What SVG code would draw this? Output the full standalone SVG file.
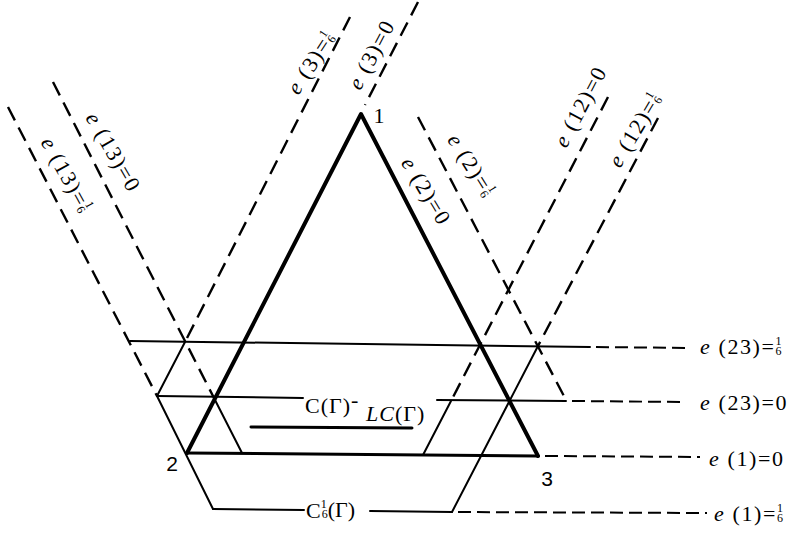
<svg xmlns="http://www.w3.org/2000/svg" width="796" height="533" viewBox="0 0 796 533">
<style>
.s{stroke:#000;stroke-width:2;fill:none;stroke-linecap:round}
.t{stroke:#000;stroke-width:4;fill:none;stroke-linecap:round;stroke-linejoin:round}
.m{stroke:#000;stroke-width:3;fill:none;stroke-linecap:round}
.d{stroke:#000;stroke-width:2.4;fill:none;stroke-dasharray:15 8}
.hd{stroke:#000;stroke-width:2;fill:none;stroke-dasharray:13 6}
text{font-family:"Liberation Serif","Times New Roman",serif;font-size:22px;fill:#000}
.lbl{letter-spacing:1.6px}
.it{font-style:italic}
.fr{font-size:12px;letter-spacing:0}
.v{font-family:"Liberation Sans",Arial,sans-serif;font-size:21px}
</style>
<rect width="796" height="533" fill="#fff"/>
<g id="connectors">
  <!-- triangle -->
  <polyline class="t" points="187,453 361,114 538,456"/>
  <line class="m" x1="187" y1="453" x2="538" y2="456"/>
  <!-- horizontal solid lines -->
  <line class="s" x1="130" y1="341" x2="590" y2="347"/>
  <line class="s" x1="157" y1="396" x2="303" y2="398"/>
  <line class="s" x1="437" y1="400" x2="566" y2="401"/>
  <line class="s" x1="213" y1="509" x2="304" y2="510"/>
  <line class="s" x1="370" y1="511" x2="452" y2="512"/>
  <line class="m" x1="251" y1="427" x2="412" y2="428"/>
  <!-- slanted solid lines -->
  <line class="s" x1="157" y1="396" x2="213" y2="509"/>
  <line class="s" x1="185" y1="342" x2="157" y2="396"/>
  <line class="s" x1="214" y1="398" x2="242" y2="453"/>
  <line class="s" x1="451" y1="401" x2="423" y2="455"/>
  <line class="s" x1="538" y1="346" x2="452" y2="512"/>
  <!-- slanted dashed lines -->
  <line class="d" x1="8" y1="107" x2="157" y2="396"/>
  <line class="d" x1="53" y1="82" x2="214" y2="398"/>
  <line class="d" x1="350" y1="17" x2="185" y2="342"/>
  <line class="d" x1="418" y1="2" x2="365" y2="105"/>
  <line class="d" x1="418" y1="117" x2="566" y2="400"/>
  <line class="d" x1="608" y1="97" x2="451" y2="401"/>
  <line class="d" x1="658" y1="118" x2="538" y2="346"/>
  <!-- horizontal dashed lines -->
  <line class="hd" x1="596" y1="347" x2="688" y2="348"/>
  <line class="hd" x1="572" y1="401" x2="684" y2="402"/>
  <line class="hd" x1="545" y1="456" x2="700" y2="457"/>
  <line class="hd" x1="458" y1="512" x2="707" y2="513"/>
</g>
<g id="vertex-1"><text x="379" y="123" text-anchor="middle">1</text></g>
<g id="vertex-2"><text class="v" x="172" y="471" text-anchor="middle">2</text></g>
<g id="vertex-3"><text class="v" x="547" y="486" text-anchor="middle">3</text></g>
<g id="region-labels">
  <text x="305" y="413" letter-spacing="1">C(Γ)</text>
  <text x="351" y="407" font-size="18">-</text>
  <text x="366" y="421" letter-spacing="1"><tspan class="it">LC</tspan>(Γ)</text>
  <text x="306" y="518">C<tspan class="fr" font-size="10" dy="-10">1</tspan><tspan class="fr" font-size="10" dx="-5" dy="10">6</tspan><tspan dy="-1">(Γ)</tspan></text>
</g>
<g id="right-labels">
  <text class="lbl" x="700" y="354"><tspan class="it">e</tspan> (23)=<tspan class="fr" dy="-9">1</tspan><tspan class="fr" dx="-6" dy="10">6</tspan></text>
  <text class="lbl" x="700" y="410"><tspan class="it">e</tspan> (23)=0</text>
  <text class="lbl" x="709" y="466"><tspan class="it">e</tspan> (1)=0</text>
  <text class="lbl" x="714" y="521"><tspan class="it">e</tspan> (1)=<tspan class="fr" dy="-9">1</tspan><tspan class="fr" dx="-6" dy="10">6</tspan></text>
</g>
<g id="slanted-labels">
  <text class="lbl" text-anchor="middle" transform="translate(107,156) rotate(60)"><tspan class="it">e</tspan> (13)=0</text>
  <text class="lbl" text-anchor="middle" transform="translate(60,178) rotate(61)"><tspan class="it">e</tspan> (13)=<tspan class="fr" dy="-9">1</tspan><tspan class="fr" dx="-6" dy="10">6</tspan></text>
  <text class="lbl" text-anchor="middle" transform="translate(420,195) rotate(59)"><tspan class="it">e</tspan> (2)=0</text>
  <text class="lbl" text-anchor="middle" transform="translate(465,169) rotate(58)"><tspan class="it">e</tspan> (2)=<tspan class="fr" dy="-9">1</tspan><tspan class="fr" dx="-6" dy="10">6</tspan></text>
  <text class="lbl" text-anchor="middle" transform="translate(378,58) rotate(-62)"><tspan class="it">e</tspan> (3)=0</text>
  <text class="lbl" text-anchor="middle" transform="translate(317,67) rotate(-57)"><tspan class="it">e</tspan> (3)=<tspan class="fr" dy="-9">1</tspan><tspan class="fr" dx="-6" dy="10">6</tspan></text>
  <text class="lbl" text-anchor="middle" transform="translate(587,110) rotate(-62)"><tspan class="it">e</tspan> (12)=0</text>
  <text class="lbl" text-anchor="middle" transform="translate(641,134) rotate(-59)"><tspan class="it">e</tspan> (12)=<tspan class="fr" dy="-9">1</tspan><tspan class="fr" dx="-6" dy="10">6</tspan></text>
</g>
</svg>
